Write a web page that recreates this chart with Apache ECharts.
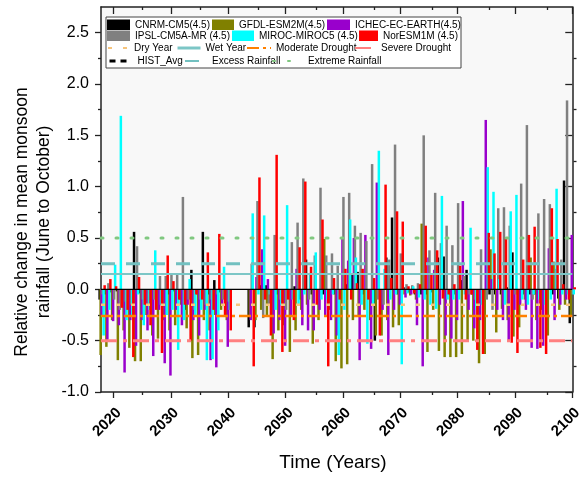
<!DOCTYPE html>
<html><head><meta charset="utf-8">
<script src="https://cdn.jsdelivr.net/npm/echarts@6/dist/echarts.min.js"></script>
<style>html,body{margin:0;padding:0;background:#fff}#c{width:585px;height:478px}</style>
</head><body><div id="c"></div>
<script>
// ---- data ----
const firstYear = 2018, lastYear = 2100;
const years = []; for (let y = firstYear; y <= lastYear; y++) years.push(y);
const seriesNames = ['CNRM-CM5(4.5)','GFDL-ESM2M(4.5)','ICHEC-EC-EARTH(4.5)','IPSL-CM5A-MR (4.5)','MIROC-MIROC5 (4.5)','NorESM1M (4.5)'];
const cnrm = [
 -0.10,-0.05,
 -0.03,-0.02,-0.06,-0.08,0.56,-0.04,-0.05,-0.06,-0.03,-0.10,
 -0.05,-0.02,-0.10,-0.20,0.19,-0.05,0.56,-0.05,0.09,-0.03,
 -0.05,null,null,null,-0.37,-0.37,0.04,0.04,-0.10,-0.05,
 -0.08,-0.05,0.03,-0.10,0.29,-0.05,-0.03,-0.05,-0.08,-0.05,
 -0.05,0.05,0.14,0.17,-0.05,-0.05,-0.50,-0.05,0.31,0.70,
 -0.05,0.02,-0.03,-0.05,-0.05,-0.05,-0.03,0.31,0.32,-0.05,
 -0.05,0.09,0.19,-0.05,-0.10,-0.05,-0.05,-0.05,-0.05,0.02,
 0.36,-0.05,-0.05,-0.05,-0.05,-0.05,-0.05,-0.05,-0.09,1.06,
 -0.33];
const gfdl = [
 -0.64,-0.56,
 -0.30,-0.69,-0.40,-0.57,-0.70,-0.70,-0.25,-0.45,-0.48,-0.30,
 -0.40,-0.35,-0.15,-0.38,-0.67,-0.64,-0.30,-0.40,-0.25,-0.20,
 -0.30,null,null,null,-0.25,-0.30,-0.20,-0.25,-0.68,-0.40,
 -0.35,-0.61,-0.40,-0.20,-0.15,-0.53,-0.30,0.49,-0.20,-0.70,
 -0.77,-0.73,-0.30,-0.25,-0.20,-0.30,-0.45,-0.45,-0.30,-0.37,
 -0.35,-0.05,-0.06,-0.10,0.64,-0.61,-0.20,-0.60,-0.66,-0.66,
 -0.66,-0.63,-0.50,-0.50,-0.72,-0.63,0.39,-0.42,-0.19,-0.30,
 -0.46,-0.37,-0.10,0.31,-0.30,-0.20,-0.45,0.27,-0.20,-0.15,
 -0.25];
const ichec = [
 -0.25,-0.49,
 -0.31,-0.35,-0.81,-0.30,-0.55,-0.30,-0.40,-0.65,-0.20,-0.72,
 -0.84,-0.20,-0.35,-0.15,-0.30,-0.45,-0.20,-0.69,-0.76,-0.15,
 -0.56,null,null,null,-0.30,0.12,0.39,0.10,-0.43,-0.30,
 -0.55,-0.25,0.20,-0.35,-0.40,-0.40,-0.20,-0.25,-0.30,-0.45,
 0.49,0.28,0.50,-0.69,0.53,-0.58,1.04,-0.20,-0.64,-0.20,
 -0.15,-0.08,-0.05,-0.35,-0.75,0.31,0.19,-0.15,-0.45,-0.48,
 -0.30,0.86,-0.20,-0.38,-0.30,1.65,0.10,-0.20,-0.30,-0.50,
 -0.20,-0.15,-0.20,-0.57,-0.58,-0.55,0.40,-0.30,-0.15,-0.10,
 0.53];
const ipsl = [
 -0.05,0.06,
 -0.10,-0.20,-0.12,-0.15,0.42,-0.10,-0.15,-0.10,0.13,0.13,
 0.15,0.14,0.90,-0.10,-0.20,-0.10,-0.15,-0.10,-0.05,-0.10,
 -0.12,null,null,null,0.25,0.86,-0.28,-0.15,0.53,-0.10,
 -0.20,0.46,0.65,1.08,-0.10,0.33,0.99,0.33,0.35,0.23,
 0.90,0.94,0.62,0.55,0.47,1.22,-0.10,-0.15,0.29,1.41,
 0.35,0.05,0.04,0.06,1.50,0.38,0.94,0.45,0.62,0.43,
 0.84,0.13,-0.05,-0.10,0.39,-0.10,-0.20,0.79,0.80,0.62,
 -0.05,1.03,1.60,-0.10,0.74,0.88,0.83,0.20,0.29,1.84,
 -0.05];
const miroc = [
 -0.45,-0.20,
 0.24,1.69,-0.30,-0.25,-0.05,-0.35,-0.20,0.38,-0.15,-0.25,
 -0.20,-0.59,-0.30,0.10,-0.25,-0.20,-0.69,-0.68,-0.40,0.22,
 -0.20,null,null,null,0.74,-0.05,0.72,-0.05,-0.20,-0.15,
 0.82,-0.10,-0.15,-0.05,0.15,0.36,-0.10,-0.10,-0.05,-0.64,
 -0.20,0.68,0.31,-0.15,-0.53,-0.15,1.35,0.20,-0.10,-0.05,
 -0.73,-0.04,0.03,-0.08,-0.10,-0.15,-0.19,0.91,-0.10,-0.10,
 -0.10,-0.05,0.60,-0.20,-0.15,1.19,0.95,0.10,-0.15,0.76,
 0.92,-0.10,-0.15,-0.05,-0.10,-0.15,-0.10,0.98,-0.05,-0.05,
 -0.05];
const noresm = [
 0.04,0.10,
 0.03,-0.18,-0.20,-0.66,0.12,-0.15,-0.35,-0.20,-0.62,0.33,
 0.08,-0.10,-0.15,-0.50,-0.05,-0.10,0.36,-0.20,0.54,-0.25,
 -0.40,null,null,null,-0.75,1.09,-0.10,-0.45,1.31,-0.61,
 -0.10,-0.30,0.41,1.05,0.22,-0.15,0.68,-0.75,0.11,-0.10,
 0.20,-0.10,0.06,0.20,-0.10,0.11,-0.45,1.02,0.11,0.76,
 0.66,0.03,-0.04,0.05,0.62,0.14,0.38,-0.09,-0.05,0.05,
 0.23,-0.10,-0.05,-0.59,-0.63,0.55,0.35,0.56,0.51,-0.52,
 -0.62,0.29,0.53,0.61,-0.57,-0.63,0.79,0.49,0.05,-0.10,
 0.02];
const modelValues = [cnrm, gfdl, ichec, ipsl, miroc, noresm];
const refNames = ['Dry Year','Wet Year','Moderate Drought','Severe Drought','HIST_Avg','Excess Rainfall','Extreme Rainfall'];
const refLevels = [-0.15, 0.15, -0.26, -0.50, 0.0, 0.25, 0.50];
const xTickMajor = [2020,2030,2040,2050,2060,2070,2080,2090,2100];
const xTickMinor = [2025,2035,2045,2055,2065,2075,2085,2095];
const yTickMajor = [-1.0,-0.5,0.0,0.5,1.0,1.5,2.0,2.5];
const yTickMinor = [-0.75,-0.25,0.25,0.75,1.25,1.75,2.25];

// ---- styles ----
const X_MIN = 2017.8, X_MAX = 2100, Y_MIN = -1.0, Y_MAX = 2.75;
const FONT = 'Liberation Sans, Arial, sans-serif';
const barColors = ['#000000','#808000','#9900cc','#808080','#00ffff','#ff0000'];
const refStyles = [
  {color:'#f6c47c', width:2.5, type:[4,11]},
  {color:'#7cc6c6', width:2, type:'solid'},
  {color:'#ff8000', width:2.5, type:[12,4,3,4]},
  {color:'#ff8080', width:3, type:[16,6,4,6]},
  {color:'#000000', width:1.2, type:'solid'},
  {color:'#72c0c0', width:3, type:[14,11]},
  {color:'#80c880', width:3, type:[2,13], cap:'round'}
];
const axisCol = '#222';
const gridRect = {left:101, top:7, width:475.5, height:385};

const series = [];
modelValues.forEach((vals, i) => {
  series.push({
    name: seriesNames[i], type:'bar', xAxisIndex:0, yAxisIndex:0,
    barWidth:2.5, barGap:'-60%', clip:true,
    itemStyle:{color:barColors[i]},
    data: years.map((y, k) => [y, vals[k]]),
    z:2
  });
});
refNames.forEach((n, i) => {
  const s = refStyles[i];
  series.push({
    name:n, type:'line', xAxisIndex:0, yAxisIndex:0, symbol:'none', showSymbol:false,
    lineStyle:{color:s.color, width:s.width, type:s.type, cap:s.cap||'butt'},
    itemStyle:{color:s.color},
    data:[[X_MIN, refLevels[i]],[X_MAX, refLevels[i]]], z:3, silent:true
  });
});

const hiddenSym = {color:'rgba(0,0,0,0)', borderColor:'rgba(0,0,0,0)', borderWidth:0, opacity:0};
const legendSpecs = [
  {name:seriesNames[0], left:107, top:19.5, w:23, h:10.5},
  {name:seriesNames[1], left:212, top:19.5, w:22, h:10.5},
  {name:seriesNames[2], left:327, top:19.5, w:23, h:10.5},
  {name:seriesNames[3], left:107, top:30.5, w:23, h:10.5},
  {name:seriesNames[4], left:232, top:30.5, w:22, h:10.5},
  {name:seriesNames[5], left:359, top:30.5, w:19, h:10.5},
  {name:refNames[0], left:107, top:43, w:21, h:10},
  {name:refNames[1], left:176, top:43, w:23, h:10, ls:{width:3}},
  {name:refNames[2], left:246, top:43, w:24, h:10},
  {name:refNames[3], left:354, top:43, w:21, h:10},
  {name:refNames[4], left:108, top:56, w:19, h:10, pad:4, ls:{type:[6,5], width:3, color:'#000'}},
  {name:refNames[5], left:184, top:56, w:15, h:10, pad:7},
  {name:refNames[6], left:272, top:56, w:30, h:10}
];
const legends = legendSpecs.map((s, i) => {
  const item = {name:s.name};
  if (i < 6) item.icon = 'rect';
  else item.itemStyle = hiddenSym;
  if (s.ls) item.lineStyle = s.ls;
  return {
    data:[item], left:s.left, top:s.top, itemWidth:s.w, itemHeight:s.h, padding:0,
    selectedMode:false, orient:'horizontal',
    textStyle:{fontSize:10, fontFamily:FONT, color:'#000', padding:[0,0,0,s.pad||0]}
  };
});

function vAxis(gridIndex, pos, ticks, len, inside, labels, showLine) {
  const isX = (pos === 'bottom' || pos === 'top');
  const ax = {
    type:'value', gridIndex, position:pos,
    min: isX ? X_MIN : Y_MIN, max: isX ? X_MAX : Y_MAX,
    axisLine:{show:showLine, onZero:false, lineStyle:{color:axisCol, width:1.5}},
    axisTick:{show:true, inside, length:len, customValues:ticks, lineStyle:{color:axisCol, width:1.3}},
    axisLabel:{show:false},
    splitLine:{show:false}, minorTick:{show:false}
  };
  if (labels) {
    ax.axisLabel = isX ? {
      show:true, customValues:ticks, rotate:45, fontWeight:'bold', fontSize:15, fontFamily:FONT,
      color:'#000', margin:13, verticalAlign:'top', formatter:(v)=>String(Math.round(v))
    } : {
      show:true, customValues:ticks, fontSize:16, fontFamily:FONT, color:'#000', margin:12,
      formatter:(v)=>v.toFixed(1)
    };
  }
  return ax;
}

const option = {
  animation:false,
  backgroundColor:'#ffffff',
  grid:[
    Object.assign({show:true, backgroundColor:'#f8f8f8', borderWidth:0}, gridRect),
    Object.assign({show:false}, gridRect)
  ],
  xAxis:[
    vAxis(0,'bottom',xTickMajor,6,false,true,true),
    vAxis(0,'top',xTickMajor,7,true,false,true),
    vAxis(1,'bottom',xTickMinor,3,false,false,false),
    vAxis(1,'top',xTickMinor,3,true,false,false)
  ],
  yAxis:[
    vAxis(0,'left',yTickMajor,6,false,true,true),
    vAxis(0,'right',yTickMajor,7,true,false,true),
    vAxis(1,'left',yTickMinor,3,false,false,false),
    vAxis(1,'right',yTickMinor,3,true,false,false)
  ],
  legend: legends,
  graphic:[
    {type:'rect', z:3, shape:{x:106, y:17, width:355, height:51}, style:{fill:'#ffffff', stroke:'#444', lineWidth:1}},
    {type:'text', z:5, x:22, y:222, rotation:Math.PI/2,
     style:{text:'Relative change in mean monsoon', font:'17.5px ' + FONT, fill:'#000', align:'center', verticalAlign:'middle'}},
    {type:'text', z:5, x:44, y:222, rotation:Math.PI/2,
     style:{text:'rainfall (June to October)', font:'17.5px ' + FONT, fill:'#000', align:'center', verticalAlign:'middle'}},
    {type:'text', z:5, x:333, y:463,
     style:{text:'Time (Years)', font:'19px ' + FONT, fill:'#000', align:'center', verticalAlign:'middle'}}
  ],
  series
};
const chart = echarts.init(document.getElementById('c'), null, {renderer:'canvas'});
chart.setOption(option);
</script>
</body></html>
